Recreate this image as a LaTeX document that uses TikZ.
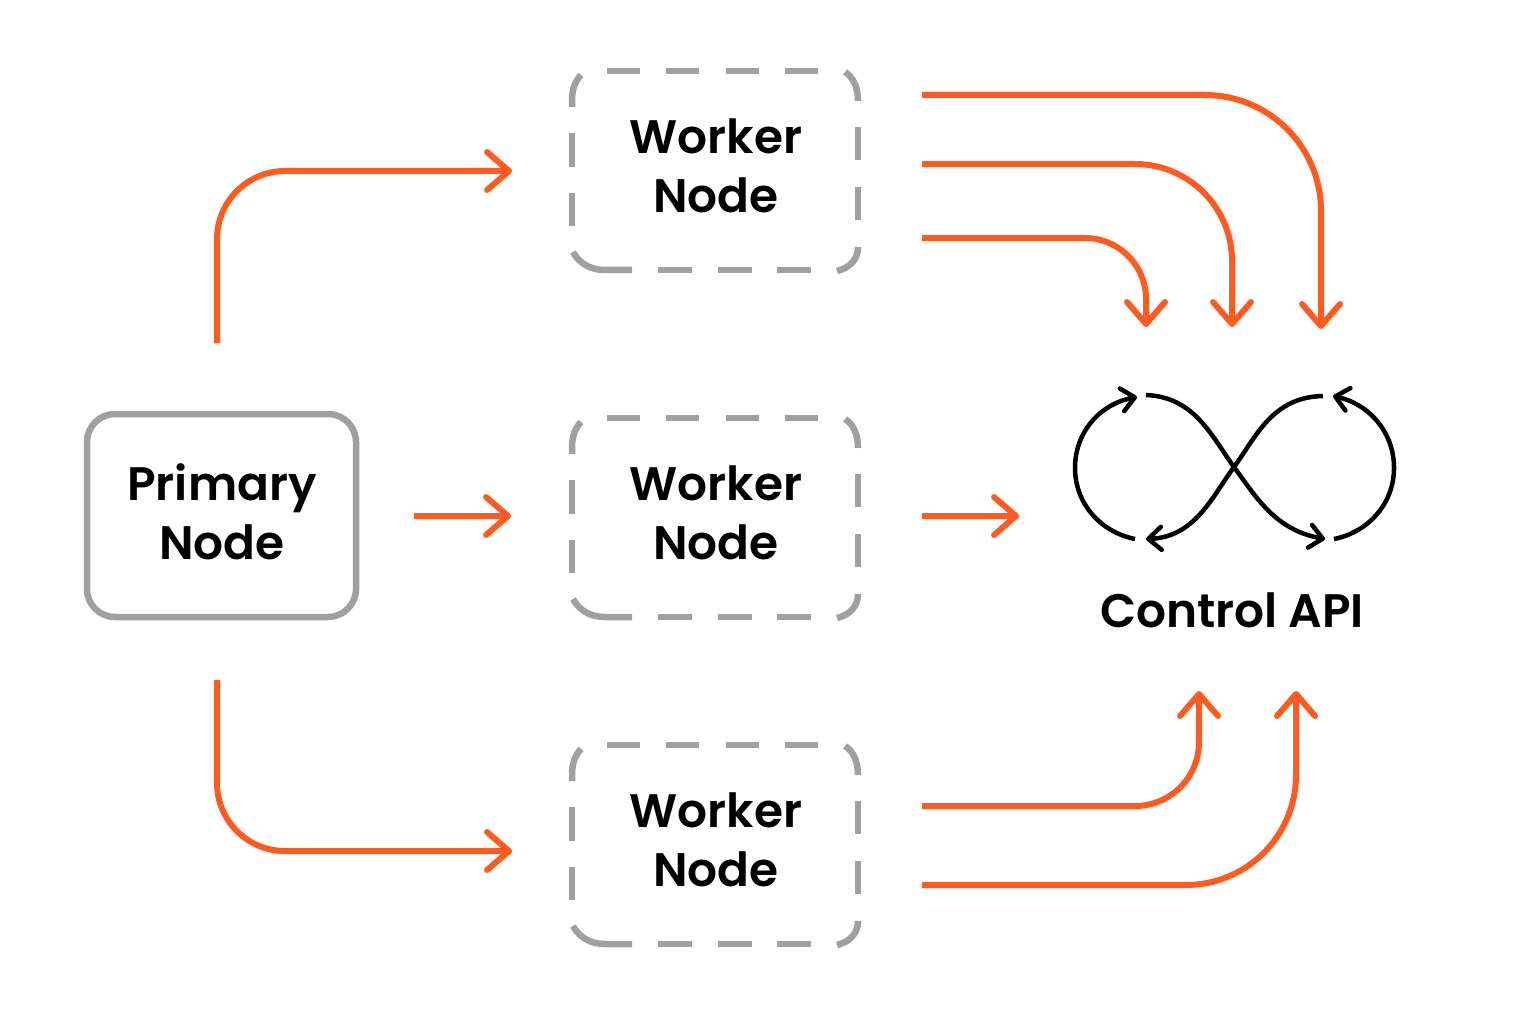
\documentclass[tikz,border=0pt]{standalone}
\usepackage{fontspec}
\setmainfont{Poppins}[UprightFont=* SemiBold]
\usetikzlibrary{arrows.meta}
\definecolor{flow}{HTML}{FF5A1F}
\definecolor{edge}{HTML}{A0A0A0}
\tikzset{
  x=1pt,y=-1pt,
  label text/.style={font=\fontsize{47}{59}\selectfont,align=center,text=black,inner sep=0pt},
  primarybox/.style={draw=edge,line width=6.5pt,rounded corners=28pt,minimum width=269pt,minimum height=203pt},
  dash seg/.style={draw=edge,line width=6.5pt},
  link/.style={draw=flow,line width=6pt,-{Straight Barb[length=22pt,width=38pt,round]}},
  loop/.style={draw=black,line width=4.5pt,-{Straight Barb[length=13pt,width=23pt,round]}},
}
\newcommand{\workerdash}[1]{%
 \begin{scope}[yshift=-#1pt]
  \path[dash seg] (607,71)--(640,71) (666,71)--(699,71) (726,71)--(759,71) (785,71)--(818,71);
  \path[dash seg] (845,72) .. controls (853,77) and (858,87) .. (858,101);
  \path[dash seg] (858,127)--(858,160) (858,187)--(858,220);
  \path[dash seg] (858,247) .. controls (858,259) and (850,268) .. (837,271);
  \path[dash seg] (811,270)--(777,270) (752,270)--(718,270) (692,270)--(658,270);
  \path[dash seg] (632,270)--(605,270) .. controls (590,270) and (579,263) .. (573,252);
  \path[dash seg] (572,226)--(572,193) (572,167)--(572,133);
  \path[dash seg] (572,107)--(572,100) .. controls (572,90) and (575,81) .. (581,75);
 \end{scope}}
\begin{document}
\begin{tikzpicture}
\useasboundingbox (0,0) rectangle (1520,1016);
\node[primarybox] (primary) at (221.5,515.5) {};
\node[label text] at (222,512) {Primary\\Node};
\workerdash{0}\workerdash{347}\workerdash{674}
\node[label text] (w1) at (716,166) {Worker\\Node};
\node[label text] (w2) at (716,513) {Worker\\Node};
\node[label text] (w3) at (716,840) {Worker\\Node};
\node[label text] (api) at (1232,610.5) {Control API};
\coordinate (pU) at (217,343); \coordinate (pM) at (414,516); \coordinate (pD) at (217,680);
\coordinate (w1in) at (512,171); \coordinate (w2in) at (511,516); \coordinate (w3in) at (512,851);
\coordinate (w2out) at (922,516); \coordinate (apiL) at (1019,516);
\coordinate (a1) at (922,95);  \coordinate (a1e) at (1321,329);
\coordinate (a2) at (922,164); \coordinate (a2e) at (1232,327);
\coordinate (a3) at (922,238); \coordinate (a3e) at (1146,327);
\coordinate (b1) at (922,806); \coordinate (b1e) at (1199,691);
\coordinate (b2) at (922,885); \coordinate (b2e) at (1296,691);
\draw[link,rounded corners=68pt] (pU) |- (w1in);
\draw[link] (pM) -- (w2in);
\draw[link,rounded corners=68pt] (pD) |- (w3in);
\draw[link] (w2out) -- (apiL);
\draw[link,rounded corners=116pt] (a1) -| (a1e);
\draw[link,rounded corners=97pt] (a2) -| (a2e);
\draw[link,rounded corners=61pt] (a3) -| (a3e);
\draw[link,rounded corners=64pt] (b1) -| (b1e);
\draw[link,rounded corners=110pt] (b2) -| (b2e);
\coordinate (c) at (1234,467);
\coordinate (l1) at (1135,539); \coordinate (l2) at (1137,397);
\coordinate (s1) at (1146,395); \coordinate (s1e) at (1325,539);
\coordinate (s2) at (1323,396); \coordinate (s2e) at (1146,539);
\coordinate (r1) at (1334,539); \coordinate (r2) at (1333,396);
\draw[loop] (l1) .. controls (1100,532) and (1075,503) .. (1075,468) .. controls (1075,432) and (1100,404) .. (l2);
\draw[loop] (s1) .. controls (1195,397) and (1212,437) .. (c) .. controls (1256,497) and (1275,530) .. (s1e);
\draw[loop] (s2) .. controls (1272,397) and (1256,437) .. (c) .. controls (1212,497) and (1195,537) .. (s2e);
\draw[loop] (r1) .. controls (1369,532) and (1394,503) .. (1394,468) .. controls (1394,432) and (1369,404) .. (r2);
\end{tikzpicture}
\end{document}
